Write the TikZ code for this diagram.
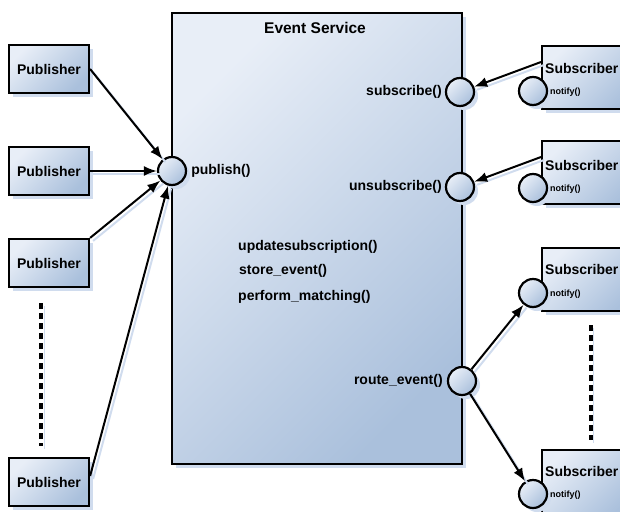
\documentclass[tikz,border=0pt]{standalone}
\usepackage{fontspec}
\setmainfont{Liberation Sans}
\usetikzlibrary{positioning,shadows,arrows.meta}

\definecolor{boxLight}{HTML}{E8EEF7}
\definecolor{boxDark}{HTML}{AAC0DC}
\definecolor{shadowBlue}{HTML}{D0DCEE}

\tikzset{
  shaded/.style={top color=boxLight, bottom color=boxDark, shading angle=45},
  boxshadow/.style={drop shadow={shadow xshift=4pt, shadow yshift=-4pt, fill=shadowBlue, opacity=1}},
  pubbox/.style={rectangle, draw, line width=2.2pt, shaded, boxshadow, minimum width=80pt, minimum height=48pt, font=\fontsize{14}{16}\selectfont\bfseries},
  subbox/.style={rectangle, draw, line width=2.2pt, shaded, boxshadow, minimum width=95pt, minimum height=63pt, anchor=north west},
  svcbox/.style={rectangle, draw, line width=2.2pt, shaded, boxshadow, anchor=north west},
  port/.style={circle, draw, line width=2.2pt, shaded, boxshadow, minimum size=28pt, inner sep=0pt},
  fn/.style={font=\fontsize{14}{16}\selectfont\bfseries, inner sep=1pt},
  note/.style={font=\fontsize{9}{10}\selectfont\bfseries, inner sep=1pt, anchor=west},
  flow/.style={-{Latex[length=13pt,width=10pt]}, line width=2pt,
    preaction={draw=shadowBlue, -, line width=2pt, transform canvas={xshift=3pt, yshift=-3pt}}},
  dots/.style={line width=4pt, dash pattern=on 6pt off 4pt,
    preaction={draw=shadowBlue, transform canvas={xshift=3pt, yshift=-3pt}}}
}

\begin{document}
\begin{tikzpicture}[x=1pt, y=-1pt]
    \clip (0,0) rectangle (620,511);

    % Event service
    \node[svcbox, minimum width=290pt, minimum height=451pt] (svc) at (171,12) {};
    \node[fn, font=\fontsize{15.5}{17}\selectfont\bfseries] (title) at (315,28) {Event Service};
    \node[fn, anchor=west] (update) at (237,247) {updatesubscription()};
    \node[fn, anchor=west] (store) at (238,271) {store\_event()};
    \node[fn, anchor=west] (match) at (237,297) {perform\_matching()};

    % Publishers
    \node[pubbox] (p1) at (49,69) {Publisher};
    \node[pubbox] (p2) at (49,171) {Publisher};
    \node[pubbox] (p3) at (49,263) {Publisher};
    \node[pubbox] (p4) at (49,482) {Publisher};

    % Subscribers
    \node[subbox] (sub1) at (541,45) {};
    \node[subbox] (sub2) at (541,140) {};
    \node[subbox] (sub3) at (541,247) {};
    \node[subbox] (sub4) at (541,449) {};
    \node[fn, anchor=west] (sub1name) at (544,68) {Subscriber};
    \node[fn, anchor=west] (sub2name) at (544,165) {Subscriber};
    \node[fn, anchor=west] (sub3name) at (544,269) {Subscriber};
    \node[fn, anchor=west] (sub4name) at (544,471) {Subscriber};
    \node[port] (notify1) at (533,91) {};
    \node[port] (notify2) at (533,188) {};
    \node[port] (notify3) at (533,293) {};
    \node[port] (notify4) at (533,494) {};
    \node[note] (notify1l) at (549,92) {notify()};
    \node[note] (notify2l) at (549,189) {notify()};
    \node[note] (notify3l) at (549,294) {notify()};
    \node[note] (notify4l) at (549,495) {notify()};

    % Interface ports
    \node[port] (publish) at (172,171) {};
    \node[fn, right=3pt of publish] (publishl) {publish()};
    \node[port] (subscribe) at (460,92) {};
    \node[fn, left=2pt of subscribe] (subscribel) {subscribe()};
    \node[port] (unsubscribe) at (460,187) {};
    \node[fn, left=2pt of unsubscribe] (unsubscribel) {unsubscribe()};
    \node[port] (route) at (462,381) {};
    \node[fn, left=3pt of route] (routel) {route\_event()};

    % Connections
    \draw[flow] (p1.east) -- (publish);
    \draw[flow] (p2.east) -- (publish);
    \draw[flow] (p3.north east) -- (publish);
    \draw[flow] ([yshift=6pt]p4.east) -- (publish);
    \draw[flow] ([yshift=-17pt]sub1.north west) -- (subscribe);
    \draw[flow] ([yshift=-17pt]sub2.north west) -- (unsubscribe);
    \draw[flow] (route) -- (notify3);
    \draw[flow] (route) -- (notify4);

    % Continuation marks
    \draw[dots] ([xshift=-8pt, yshift=-15pt]p3.south) -- ([xshift=-8pt, yshift=11pt]p4.north);
    \draw[dots] ([xshift=1pt, yshift=-13pt]sub3.south) -- ([xshift=1pt, yshift=9pt]sub4.north);
\end{tikzpicture}
\end{document}
